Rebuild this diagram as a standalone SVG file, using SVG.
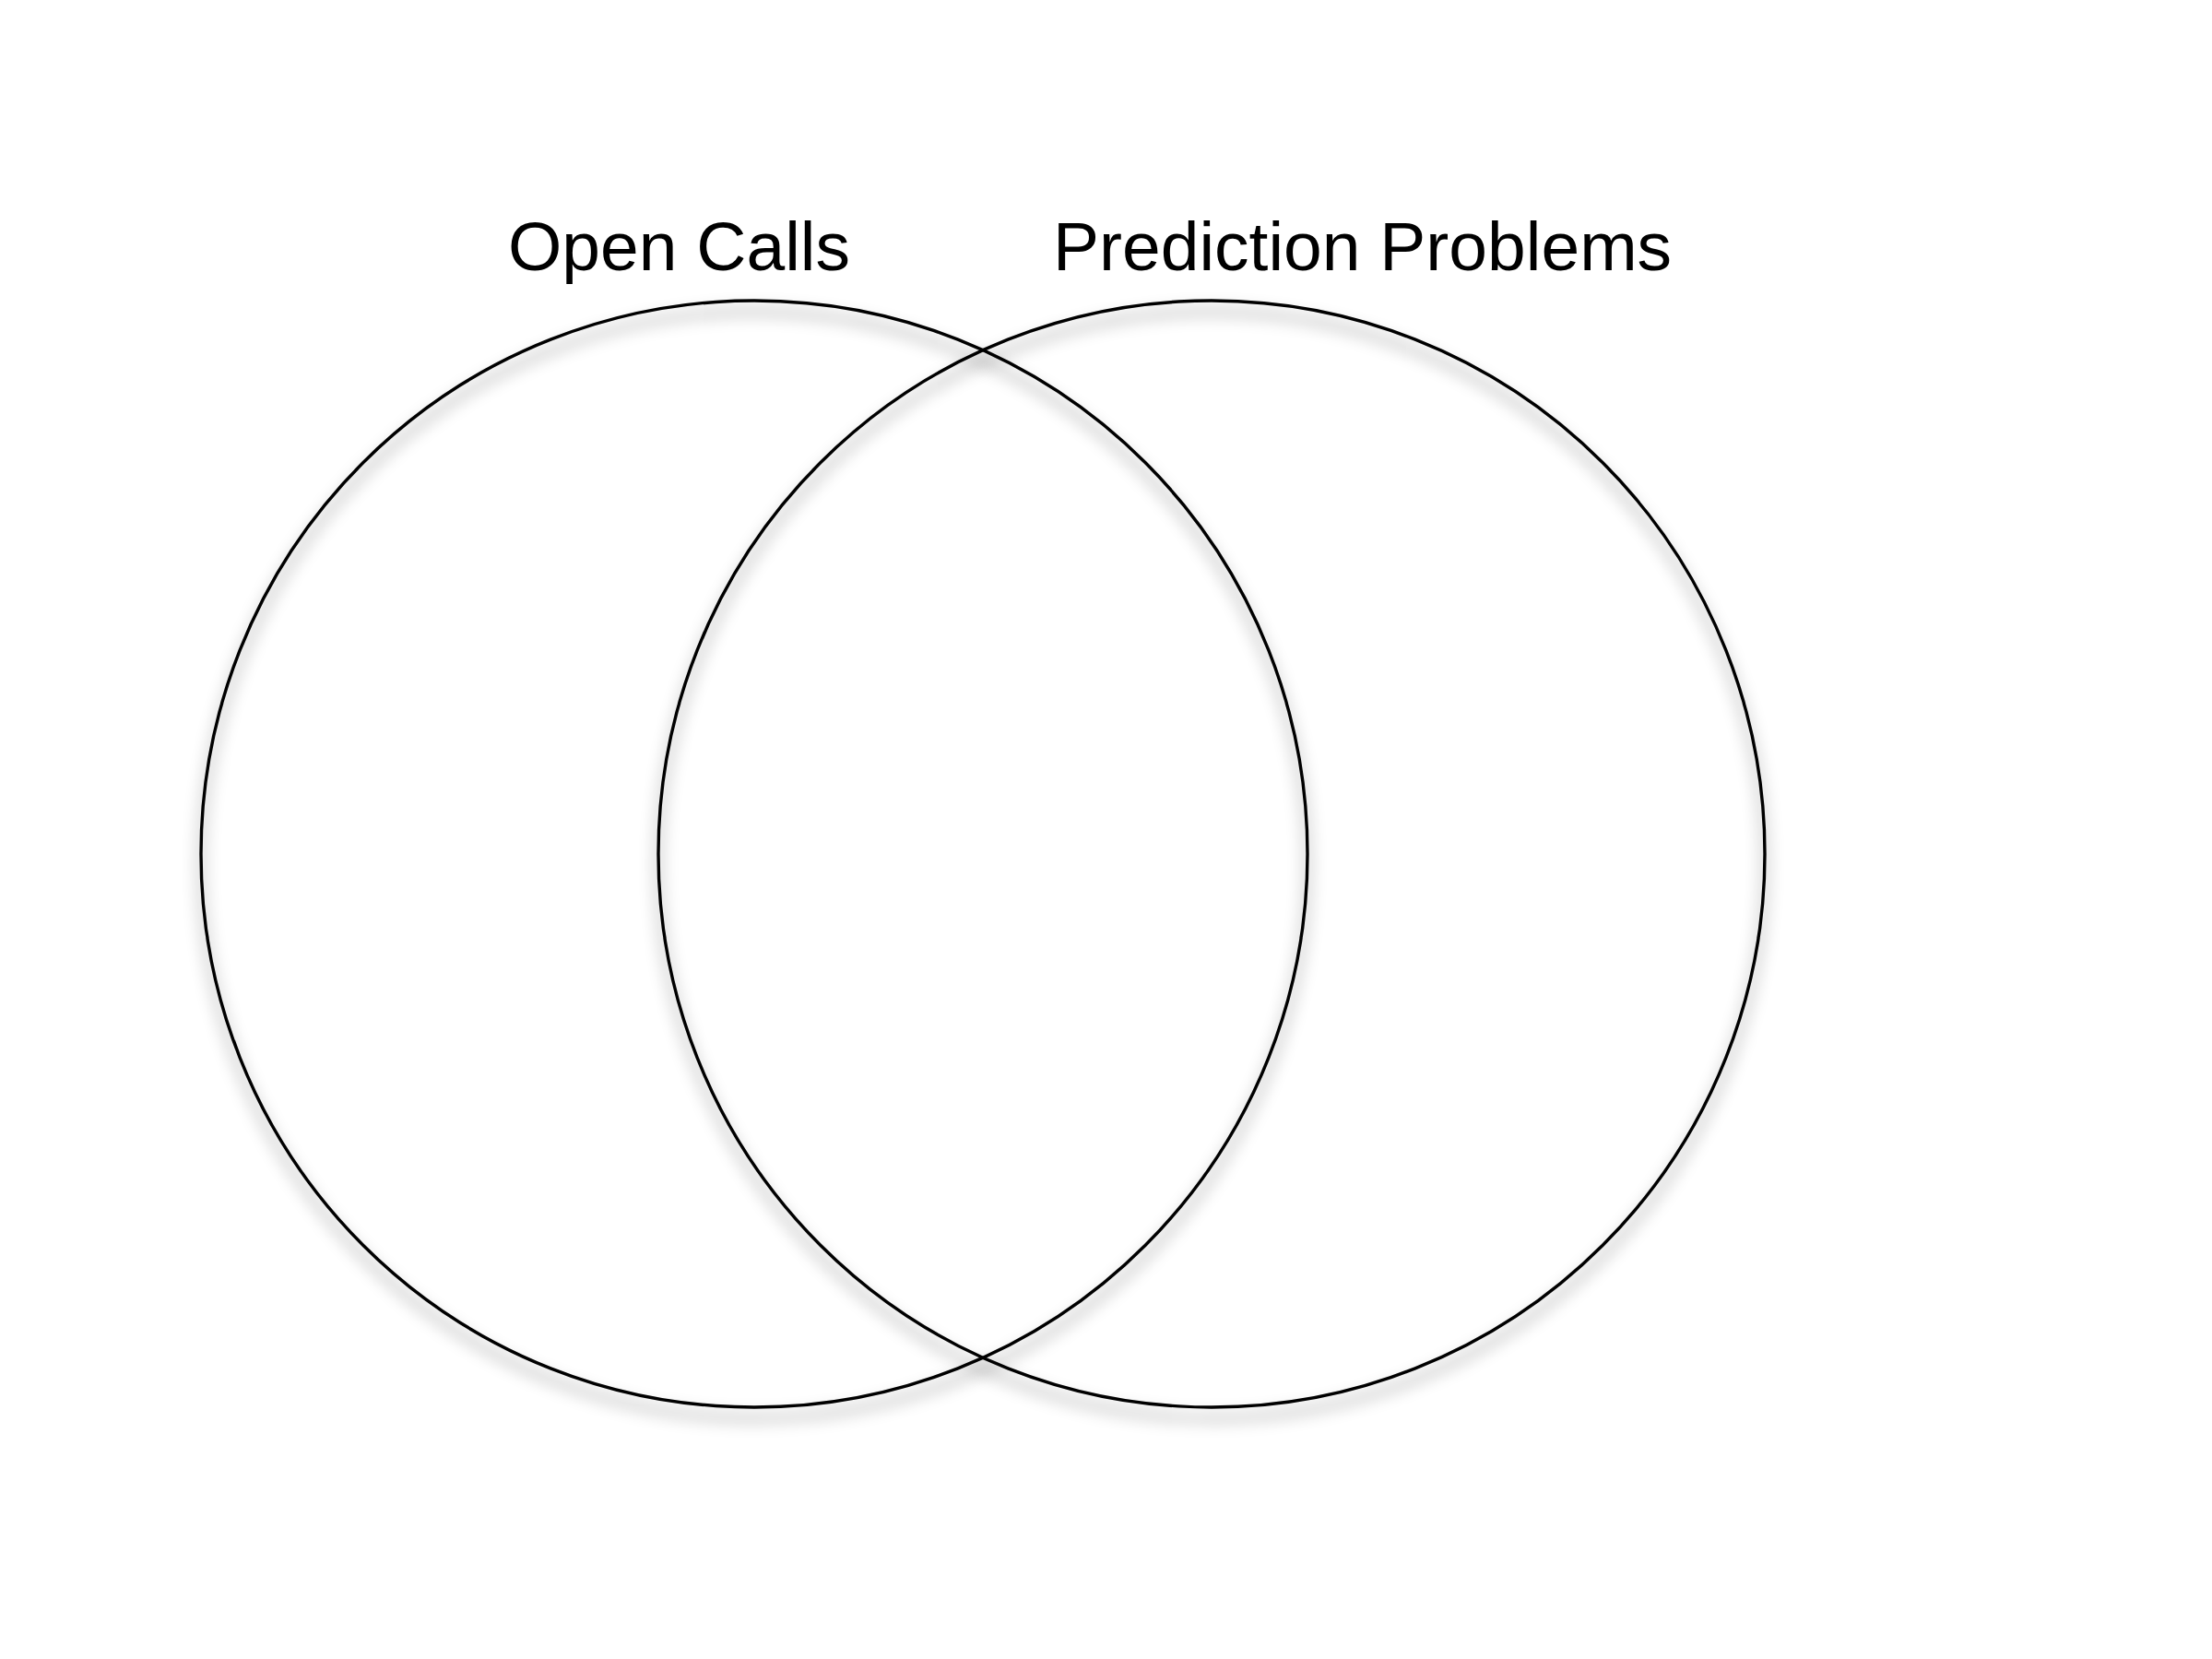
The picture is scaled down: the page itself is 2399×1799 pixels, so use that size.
<svg xmlns="http://www.w3.org/2000/svg" width="2399" height="1799" viewBox="0 0 2399 1799">
  <defs>
    <filter id="shadow" x="-20%" y="-20%" width="140%" height="140%">
      <feGaussianBlur in="SourceAlpha" stdDeviation="9" result="b"/>
      <feOffset in="b" dx="0" dy="12" result="o"/>
      <feComponentTransfer in="o" result="s">
        <feFuncA type="linear" slope="0.55"/>
      </feComponentTransfer>
      <feMerge>
        <feMergeNode in="s"/>
        <feMergeNode in="SourceGraphic"/>
      </feMerge>
    </filter>
  </defs>
  <style>
    .ring { fill: none; stroke: #000; stroke-width: 3.4; filter: url(#shadow); }
    .label { font-family: "Liberation Sans", Arial, Helvetica, sans-serif; font-size: 75px; fill: #000; }
  </style>
  <rect width="2399" height="1799" fill="#fff"/>
  <g id="open-calls">
    <circle class="ring" cx="818" cy="926" r="600"/>
    <text class="label" x="551" y="293">Open Calls</text>
  </g>
  <g id="prediction-problems">
    <circle class="ring" cx="1314" cy="926" r="600"/>
    <text class="label" x="1142" y="293">Prediction Problems</text>
  </g>
  <g id="connectors"/>
</svg>
